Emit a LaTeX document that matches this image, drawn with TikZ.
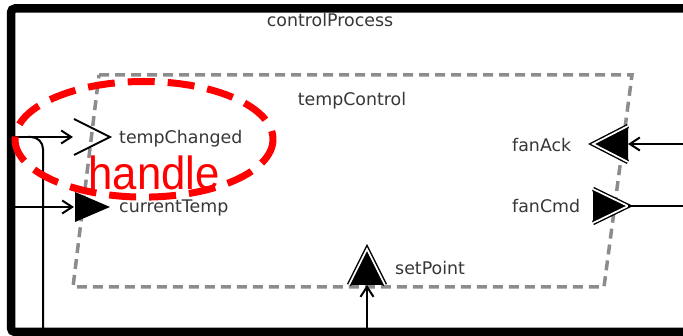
\documentclass[tikz,border=0pt]{standalone}
\usepackage{fontspec}
\setmainfont{DejaVu Sans}
\newfontfamily\handlefont{Liberation Sans}
\usetikzlibrary{arrows.meta}
\definecolor{labelgray}{RGB}{55,55,55}
\definecolor{boundgray}{RGB}{140,140,140}
\begin{document}
\begin{tikzpicture}[x=1pt,y=-1pt,
  lbl/.style={font=\fontsize{17.4}{20}\selectfont, text=labelgray, inner sep=0pt, anchor=base west},
  wire/.style={line width=2pt, black},
  arr/.style={wire, -{Straight Barb[length=10pt,width=13pt]}},
  chev/.style={line width=1.4pt, double=white, double distance=1.7pt, line join=miter, miter limit=10},
  chevopen/.style={line width=2pt, line join=miter, miter limit=10},
  frame/.style={line width=8.5pt, black, rounded corners=4pt},
  bound/.style={line width=3.5pt, boundgray, dash pattern=on 10pt off 6pt},
  redmark/.style={line width=7pt, red, dash pattern=on 27pt off 13pt}
]
\clip (0,0) rectangle (683,336);
\useasboundingbox (0,0) rectangle (683,336);

% outer process frame (continues past the right side)
\draw[frame] (700,8.5) -- (11,8.5) -- (11,332) -- (700,332);
\node[lbl, anchor=base] (procname) at (330,27) {controlProcess};

% tempControl block boundary
\draw[bound] (99,75) -- (632,75) -- (604,287) -- (73,287) -- cycle;
\node[lbl, anchor=base] (blockname) at (352,106) {tempControl};

% port anchor points
\coordinate (pTempChanged) at (73,137);
\coordinate (pCurrentTemp) at (74,207);
\coordinate (pFanAck) at (628,144);
\coordinate (pFanCmd) at (628,206);
\coordinate (pSetPoint) at (367,285);

% wire end points on the process frame
\coordinate (fTempChanged) at (15,137);
\coordinate (fCurrentTemp) at (15,207);
\coordinate (fFanAck) at (683,144);
\coordinate (fFanCmd) at (683,206);
\coordinate (fSetPoint) at (367,328);
\coordinate (fBranch) at (43,336);
\coordinate (bTurn) at (43,137);

% port glyphs
\draw[chevopen] (74,119) -- (110,137) -- (74,155);
\fill (75,192) -- (110,207) -- (75,222) -- cycle;
\fill (628,126) -- (593,144) -- (628,162) -- cycle;
\draw[chev] (628,126) -- (593,144) -- (628,162);
\fill (593,189) -- (628,206) -- (593,223) -- cycle;
\draw[chev] (593,189) -- (628,206) -- (593,223);
\fill (349,285) -- (367,249) -- (385,285) -- cycle;
\draw[chev] (349,285) -- (367,249) -- (385,285);

% port labels
\node[lbl] (lTempChanged) at (119,143.5) {tempChanged};
\node[lbl] (lCurrentTemp) at (119,213) {currentTemp};
\node[lbl] (lFanAck) at (512,151.5) {fanAck};
\node[lbl] (lFanCmd) at (512,213) {fanCmd};
\node[lbl] (lSetPoint) at (395,274.5) {setPoint};

% connectors
\draw[arr] (fTempChanged) -- (pTempChanged);
\draw[wire, rounded corners=12pt] (fBranch) -- (bTurn) -- (28,137);
\draw[arr] (fCurrentTemp) -- (pCurrentTemp);
\draw[arr] (fFanAck) -- (pFanAck);
\draw[wire] (pFanCmd) -- (fFanCmd);
\draw[arr] (fSetPoint) -- (pSetPoint);

% highlight
\draw[redmark] (144,139.3) ellipse [x radius=129, y radius=57.8];
\node[inner sep=0pt, anchor=base west, text=red, xscale=0.94, font=\handlefont\fontsize{46.5}{52}\selectfont] (handle) at (88.5,189.3) {handle};
\end{tikzpicture}
\end{document}
